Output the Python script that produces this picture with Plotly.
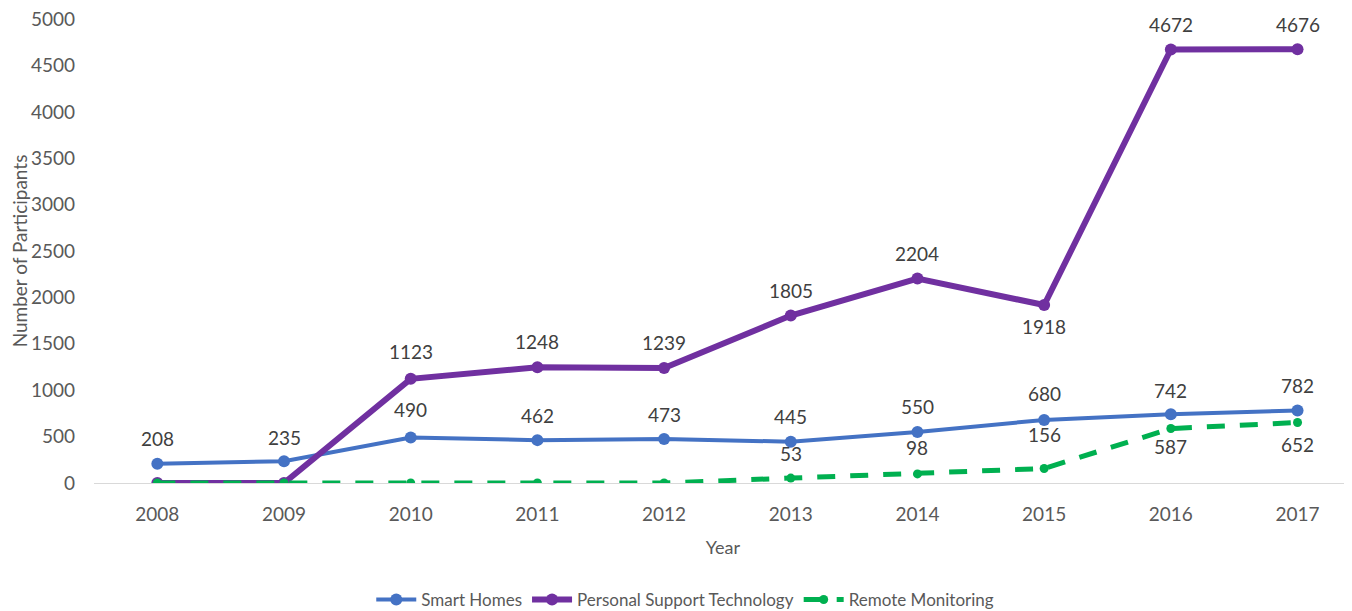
import plotly.graph_objects as go

years = ["2008", "2009", "2010", "2011", "2012", "2013", "2014", "2015", "2016", "2017"]
smart_homes = [208, 235, 490, 462, 473, 445, 550, 680, 742, 782]
personal_support = [0, 0, 1123, 1248, 1239, 1805, 2204, 1918, 4672, 4676]
remote_monitoring = [0, 0, 0, 0, 0, 53, 98, 156, 587, 652]
y_ticks = [0, 500, 1000, 1500, 2000, 2500, 3000, 3500, 4000, 4500, 5000]

# which points carry a value label, and pixel offset of each label (positive = above)
sh_label_shift = [25, 24, 28, 25, 25, 25, 25, 26, 24, 25]
pst_label_shift = [None, None, 27, 26, 26, 25, 25, -21, 25, 25]
rm_label_shift = [None, None, None, None, None, 25, 26, 34, -18, -22]

FONT = "Lato, sans-serif"
GREY = "#595959"

fig = go.Figure()
fig.add_trace(go.Scatter(
    x=years, y=smart_homes, name="Smart Homes", mode="lines+markers",
    line=dict(color="#4472C4", width=4), marker=dict(size=12, color="#4472C4"),
))
fig.add_trace(go.Scatter(
    x=years, y=personal_support, name="Personal Support Technology", mode="lines+markers",
    line=dict(color="#7030A0", width=6), marker=dict(size=12, color="#7030A0"),
))
fig.add_trace(go.Scatter(
    x=years, y=remote_monitoring, name="Remote Monitoring", mode="lines+markers",
    line=dict(color="#00B050", width=5, dash="18px,15px"), marker=dict(size=9, color="#00B050"),
))

annotations = []
for values, shifts in [(smart_homes, sh_label_shift), (personal_support, pst_label_shift),
                       (remote_monitoring, rm_label_shift)]:
    for i, (yv, s) in enumerate(zip(values, shifts)):
        if s is None:
            continue
        annotations.append(dict(
            xref="x", yref="y", x=i, y=yv, text=str(yv), showarrow=False, yshift=s,
            font=dict(family=FONT, size=19, color="#404040"),
        ))

# the page body adds an 8px offset, so the figure is 8px smaller than the window
fig.update_layout(
    width=1344, height=603,
    margin=dict(l=86, r=0, t=11, b=128, autoexpand=False),
    paper_bgcolor="white", plot_bgcolor="white",
    font=dict(family=FONT, size=18, color=GREY),
    showlegend=True,
    legend=dict(orientation="h", x=0.47, y=-0.252,
                xanchor="center", yanchor="middle", font=dict(size=17, color=GREY),
                itemwidth=40),
    annotations=annotations,
)
fig.update_xaxes(
    type="category", range=[-0.5, 9.43], showgrid=False, zeroline=False,
    showline=True, linecolor="#D9D9D9", linewidth=1, ticks="",
    tickfont=dict(size=19, color=GREY), ticklabelstandoff=14,
    title=dict(text="Year", font=dict(size=18, color=GREY), standoff=17),
)
fig.update_yaxes(
    range=[0, 5001], tickmode="array", tickvals=y_ticks, ticktext=[str(v) for v in y_ticks],
    showgrid=False, zeroline=False, showline=False, ticks="", ticklabeloverflow="allow",
    tickfont=dict(size=19, color=GREY), ticklabelstandoff=18,
    title=dict(text="Number of Participants", font=dict(size=19, color=GREY), standoff=12),
)

fig.write_html("out.html")
